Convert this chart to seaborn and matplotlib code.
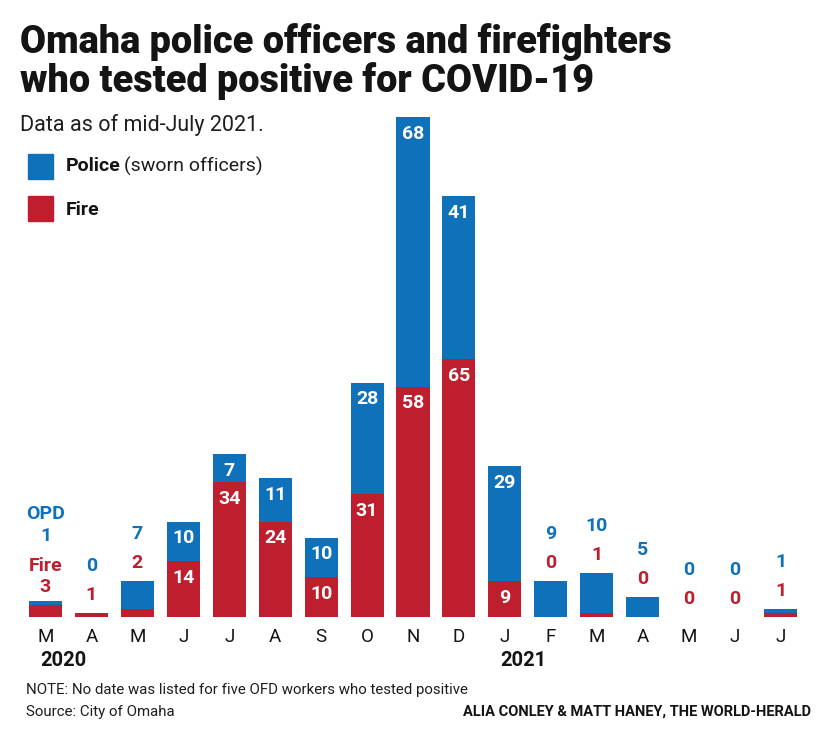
import pandas as pd
import matplotlib
matplotlib.use("Agg")
import matplotlib.pyplot as plt
import seaborn as sns

# Data
periods = ["2020-03", "2020-04", "2020-05", "2020-06", "2020-07", "2020-08", "2020-09",
           "2020-10", "2020-11", "2020-12", "2021-01", "2021-02", "2021-03", "2021-04",
           "2021-05", "2021-06", "2021-07"]
month_labels = ["M", "A", "M", "J", "J", "A", "S", "O", "N", "D",
                "J", "F", "M", "A", "M", "J", "J"]
police = [1, 0, 7, 10, 7, 11, 10, 28, 68, 41, 29, 9, 10, 5, 0, 0, 1]
fire = [3, 1, 2, 14, 34, 24, 10, 31, 58, 65, 9, 0, 1, 0, 0, 0, 1]

BLUE = "#1071bb"
RED = "#be1e2d"
INK = "#141414"

df = pd.DataFrame({"period": periods, "police": police, "fire": fire})
df["total"] = df["police"] + df["fire"]

sns.set_theme(style="white")
plt.rcParams["font.family"] = ["Roboto", "DejaVu Sans"]

W, H = 840, 740
fig = plt.figure(figsize=(W / 100, H / 100), dpi=100)

def px(x, y):
    return x / W, 1 - y / H

# axes placed in pixels: x 22.5..803.5, y 101..617
ax = fig.add_axes([22.5 / W, (H - 617) / H, 781 / W, 516 / H])

sns.barplot(data=df, x="period", y="total", color=BLUE, width=0.72,
            saturation=1, ax=ax, linewidth=0)
sns.barplot(data=df, x="period", y="fire", color=RED, width=0.72,
            saturation=1, ax=ax, linewidth=0)

ax.set_ylim(0, 130)
ax.set_xlim(-0.5, len(periods) - 0.5)
ax.set_xlabel("")
ax.set_ylabel("")
ax.set_yticks([])
ax.set_xticks(range(len(periods)))
ax.set_xticklabels(month_labels, fontsize=13.5, color=INK)
ax.tick_params(axis="x", length=0, pad=8)
for s in ax.spines.values():
    s.set_visible(False)

# value labels
lab = dict(ha="center", va="center", fontsize=14, fontweight="bold", textcoords="offset points")
for i, row in df.iterrows():
    p, f, t = row["police"], row["fire"], row["total"]
    if t >= 20:
        ax.annotate(str(p), (i, t), xytext=(0, -12), color="white", **lab)
        ax.annotate(str(f), (i, f), xytext=(0, -12), color="white", **lab)
    elif i == 0:
        ax.annotate(str(f), (i, t), xytext=(0, 10), color=RED, **lab)
        ax.annotate("Fire", (i, t), xytext=(0, 25), color=RED, **lab)
        ax.annotate(str(p), (i, t), xytext=(0, 47), color=BLUE, **lab)
        ax.annotate("OPD", (i, t), xytext=(0, 63), color=BLUE, **lab)
    else:
        ax.annotate(str(f), (i, t), xytext=(0, 13), color=RED, **lab)
        ax.annotate(str(p), (i, t), xytext=(0, 34), color=BLUE, **lab)

# years
fig.text(*px(63, 660), "2020", ha="center", va="center", fontsize=14.5, fontweight="bold", color=INK)
fig.text(*px(523, 660), "2021", ha="center", va="center", fontsize=14.5, fontweight="bold", color=INK)

# title block
fig.text(*px(20, 42), "Omaha police officers and firefighters", ha="left", va="center",
         fontsize=27.3, fontweight="heavy", color=INK)
fig.text(*px(20, 81), "who tested positive for COVID-19", ha="left", va="center",
         fontsize=27.3, fontweight="heavy", color=INK)
fig.text(*px(20, 125), "Data as of mid-July 2021.", ha="left", va="center",
         fontsize=15.5, color="#1e1e1e")

# legend
fig.patches.append(plt.Rectangle(px(28, 179), 25 / W, 25 / H, transform=fig.transFigure, color=BLUE))
fig.patches.append(plt.Rectangle(px(28, 221), 25 / W, 25 / H, transform=fig.transFigure, color=RED))
fig.text(*px(66, 166), "Police", ha="left", va="center", fontsize=14, fontweight="bold", color=INK)
fig.text(*px(124, 166), "(sworn officers)", ha="left", va="center", fontsize=14, color="#1e1e1e")
fig.text(*px(66, 210), "Fire", ha="left", va="center", fontsize=14, fontweight="bold", color=INK)

# footer
fig.text(*px(26, 690), "NOTE: No date was listed for five OFD workers who tested positive",
         ha="left", va="center", fontsize=10.8, color="#1e1e1e")
fig.text(*px(26, 712), "Source: City of Omaha", ha="left", va="center",
         fontsize=10.8, color="#1e1e1e")
fig.text(*px(811, 712), "ALIA CONLEY & MATT HANEY, THE WORLD-HERALD", ha="right", va="center",
         fontsize=10.5, fontweight="bold", color=INK)

fig.savefig("out.png", dpi=100)
